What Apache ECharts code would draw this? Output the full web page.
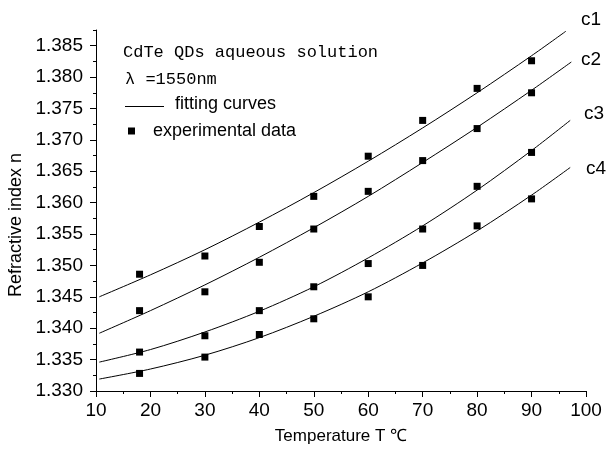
<!DOCTYPE html>
<html>
<head>
<meta charset="utf-8">
<script src="https://cdn.jsdelivr.net/npm/echarts@6/dist/echarts.min.js"></script>
<style>html,body{margin:0;padding:0;background:#fff;}#chart{width:606px;height:454px;}</style>
</head>
<body>
<div id="chart"></div>
<script>
// ---- data ----
const xTicks = [10, 20, 30, 40, 50, 60, 70, 80, 90, 100];
const yTicks = ['1.330', '1.335', '1.340', '1.345', '1.350', '1.355', '1.360', '1.365', '1.370', '1.375', '1.380', '1.385'];
const curveNames = ['c1', 'c2', 'c3', 'c4'];

// experimental data (temperature, refractive index)
const pointT = [18, 30, 40, 50, 60, 70, 80, 90];
const c1Points = [1.3486, 1.3515, 1.3562, 1.3610, 1.3674, 1.3731, 1.3782, 1.3826];
const c2Points = [1.3428, 1.3458, 1.3505, 1.3558, 1.3618, 1.3667, 1.3718, 1.3775];
const c3Points = [1.3362, 1.3388, 1.3428, 1.3466, 1.3503, 1.3558, 1.3626, 1.3680];
const c4Points = [1.3328, 1.3354, 1.3390, 1.3415, 1.3450, 1.3500, 1.3563, 1.3606];

// fitting curves
const c1CurveT = [10.6, 20, 30, 40, 50, 60, 70, 80, 90, 96.3];
const c1Curve  = [1.3450, 1.3485, 1.3525, 1.3569, 1.3616, 1.3666, 1.3719, 1.3775, 1.3834, 1.3873];
const c2CurveT = [10.6, 20, 30, 40, 50, 60, 70, 80, 90, 97.3];
const c2Curve  = [1.3392, 1.3428, 1.3469, 1.3513, 1.3560, 1.3610, 1.3664, 1.3720, 1.3779, 1.3824];
const c3CurveT = [10.6, 20, 30, 40, 50, 60, 70, 80, 90, 97.1];
const c3Curve  = [1.3346, 1.3366, 1.3394, 1.3427, 1.3466, 1.3512, 1.3563, 1.3620, 1.3683, 1.3731];
const c4CurveT = [10.6, 20, 30, 40, 50, 60, 70, 80, 90, 97.1];
const c4Curve  = [1.3319, 1.3335, 1.3357, 1.3385, 1.3419, 1.3458, 1.3504, 1.3555, 1.3612, 1.3656];

// ---- build ----
const pair = (xs, ys) => xs.map((x, i) => [x, ys[i]]);
const curves = [[c1CurveT, c1Curve], [c2CurveT, c2Curve], [c3CurveT, c3Curve], [c4CurveT, c4Curve]];
const points = [c1Points, c2Points, c3Points, c4Points];
const yMajor = yTicks.map(Number);

const series = [];
curves.forEach((c, i) => {
  series.push({
    name: curveNames[i] + ' fit', type: 'line', data: pair(c[0], c[1]),
    showSymbol: false, smooth: 0.3, silent: true,
    lineStyle: { color: '#000', width: 1 }
  });
});
points.forEach((p, i) => {
  series.push({
    name: curveNames[i] + ' data', type: 'scatter', data: pair(pointT, p),
    symbol: 'rect', symbolSize: 7, itemStyle: { color: '#000', opacity: 1 }
  });
});

const black = { color: '#000', width: 1 };
const option = {
  backgroundColor: '#fff',
  animation: false,
  grid: { left: 96, right: 20, top: 30, bottom: 63, containLabel: false },
  xAxis: {
    type: 'value', min: xTicks[0], max: xTicks[xTicks.length - 1], interval: 10,
    name: 'Temperature T ℃', nameLocation: 'middle', nameGap: 37,
    nameTextStyle: { color: '#000', fontSize: 17, fontFamily: 'Liberation Sans, Arial' },
    axisLine: { lineStyle: black },
    axisTick: { length: 6, lineStyle: black },
    minorTick: { show: true, splitNumber: 2, length: 3, lineStyle: black },
    splitLine: { show: false },
    axisLabel: { color: '#000', fontSize: 19, fontFamily: 'Liberation Sans, Arial', margin: 10 }
  },
  yAxis: [{
    type: 'value', min: yMajor[0], max: 1.3875, interval: 0.005,
    axisLine: { show: true, lineStyle: black },
    axisTick: { length: 6, lineStyle: black, customValues: yMajor },
    splitLine: { show: false },
    axisLabel: {
      color: '#000', fontSize: 19, fontFamily: 'Liberation Sans, Arial', margin: 13,
      customValues: yMajor,
      formatter: v => v.toFixed(3)
    }
  }, {
    type: 'value', min: yMajor[0], max: 1.3875, interval: 0.0025,
    position: 'left',
    axisLine: { show: false },
    axisTick: { show: true, length: 3, lineStyle: black },
    axisLabel: { show: false },
    splitLine: { show: false }
  }],
  graphic: [
    { type: 'text', x: 16, y: 225, rotation: Math.PI / 2,
      style: { text: 'Refractive index n', fill: '#000', font: '18px "Liberation Sans", Arial', align: 'center', verticalAlign: 'middle' } },
    { type: 'text', x: 123, y: 52,
      style: { text: 'CdTe QDs aqueous solution', fill: '#000', font: '17px "Liberation Mono", monospace', verticalAlign: 'middle' } },
    { type: 'text', x: 125, y: 79,
      style: { text: 'λ =1550nm', fill: '#000', font: '17px "Liberation Mono", monospace', verticalAlign: 'middle' } },
    { type: 'line', shape: { x1: 125, y1: 106.5, x2: 164, y2: 106.5 }, style: { stroke: '#000', lineWidth: 1 } },
    { type: 'text', x: 175, y: 104,
      style: { text: 'fitting curves', fill: '#000', font: '18px "Liberation Sans", Arial', verticalAlign: 'middle' } },
    { type: 'rect', shape: { x: 128, y: 127.5, width: 7, height: 7 }, style: { fill: '#000' } },
    { type: 'text', x: 153, y: 131,
      style: { text: 'experimental data', fill: '#000', font: '18px "Liberation Sans", Arial', verticalAlign: 'middle' } },
    { type: 'text', x: 581, y: 20, style: { text: curveNames[0], fill: '#000', font: '19px "Liberation Sans", Arial', verticalAlign: 'middle' } },
    { type: 'text', x: 581, y: 60, style: { text: curveNames[1], fill: '#000', font: '19px "Liberation Sans", Arial', verticalAlign: 'middle' } },
    { type: 'text', x: 584, y: 114, style: { text: curveNames[2], fill: '#000', font: '19px "Liberation Sans", Arial', verticalAlign: 'middle' } },
    { type: 'text', x: 586, y: 169, style: { text: curveNames[3], fill: '#000', font: '19px "Liberation Sans", Arial', verticalAlign: 'middle' } }
  ],
  series: series
};

const chart = echarts.init(document.getElementById('chart'), null, { renderer: 'canvas' });
chart.setOption(option);
</script>
</body>
</html>
